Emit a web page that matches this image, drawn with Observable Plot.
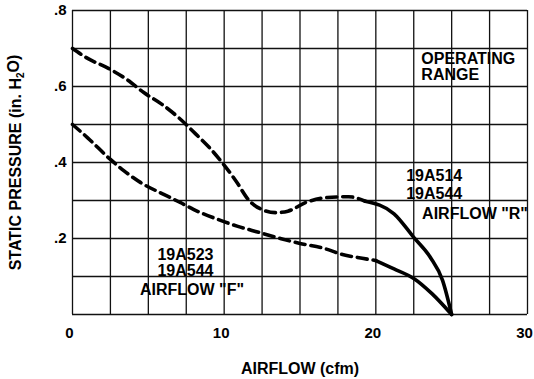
<!DOCTYPE html>
<html>
<head>
<meta charset="utf-8">
<script src="https://cdn.jsdelivr.net/npm/d3@7"></script>
<script src="https://cdn.jsdelivr.net/npm/@observablehq/plot@0.6"></script>
<style>
  html, body { margin: 0; padding: 0; background: #fff; }
</style>
</head>
<body>
<div id="chart"></div>
<script>
// ---- data ----
// 19A514 / 19A544, airflow "R" (upper curve)
const upperDashX  = [0, 1.0, 2.4, 3.6, 4.7, 5.9, 7.0, 8.1, 9.1, 9.9, 10.8, 11.6, 12.5, 13.4, 14.2, 15.4, 16.8, 18.2, 19.3];
const upperDashY  = [0.70, 0.674, 0.647, 0.618, 0.584, 0.553, 0.518, 0.476, 0.436, 0.398, 0.35, 0.302, 0.276, 0.268, 0.272, 0.295, 0.308, 0.31, 0.298];
const upperSolidX = [19.3, 21.2, 22.5, 23.6, 24.4, 25.0];
const upperSolidY = [0.298, 0.265, 0.203, 0.15, 0.09, 0.0];
// 19A523 / 19A544, airflow "F" (lower curve)
const lowerDashX  = [0, 1.0, 2.5, 3.4, 4.5, 5.8, 7.1, 8.0, 9.6, 10.9, 12.3, 13.7, 15.0, 16.5, 17.8, 19.1, 20.0];
const lowerDashY  = [0.50, 0.465, 0.408, 0.378, 0.347, 0.32, 0.295, 0.276, 0.25, 0.232, 0.216, 0.20, 0.187, 0.175, 0.158, 0.148, 0.142];
const lowerSolidX = [20.0, 21.2, 22.5, 23.7, 25.0];
const lowerSolidY = [0.142, 0.12, 0.095, 0.055, 0.0];

// grid and ticks
const xGrid = [0, 2.5, 5, 7.5, 10, 12.5, 15, 17.5, 20, 22.5, 25, 27.5, 30];
const yGrid = [0, 0.1, 0.2, 0.3, 0.4, 0.5, 0.6, 0.7, 0.8];
const xTicks = [0, 10, 20, 30];
const yTicks = [0.2, 0.4, 0.6, 0.8];
const yTickLabels = [".2", ".4", ".6", ".8"];

// annotation texts with anchor values in data units
const noteText = ["OPERATING", "RANGE", "19A514", "19A544", "AIRFLOW \"R\"", "19A523", "19A544", "AIRFLOW \"F\""];
const noteX    = [23.0, 23.0, 22.0, 22.0, 23.05, 5.6, 5.6, 4.45];
const noteY    = [0.672, 0.630, 0.366, 0.318, 0.266, 0.158, 0.116, 0.066];

const xTitle = "AIRFLOW (cfm)";
const yTitle = "STATIC PRESSURE (in. H2O)";

// ---- build tables ----
const toPts = (xs, ys) => xs.map((x, i) => ({x, y: ys[i]}));
const upperDash = toPts(upperDashX, upperDashY);
const upperSolid = toPts(upperSolidX, upperSolidY);
const lowerDash = toPts(lowerDashX, lowerDashY);
const lowerSolid = toPts(lowerSolidX, lowerSolidY);
const notes = noteText.map((t, i) => ({t, x: noteX[i], y: noteY[i]}));

const font = "'Liberation Sans', Arial, Helvetica, sans-serif";

const chart = Plot.plot({
  width: 534,
  height: 379,
  marginLeft: 72,
  marginRight: 7,
  marginTop: 10,
  marginBottom: 65,
  x: {domain: [0, 30]},
  y: {domain: [0, 0.8]},
  style: {fontFamily: font, fontWeight: "bold", fontSize: "15px", color: "#000", background: "#fff"},
  marks: [
    Plot.ruleX(xGrid, {stroke: "#111", strokeWidth: 1.3}),
    Plot.ruleY(yGrid, {stroke: "#111", strokeWidth: 1.3}),
    Plot.axisX({ticks: xTicks, tickSize: 0, tickPadding: 13, dx: -3, label: null, fontSize: 15, fontWeight: "bold"}),
    Plot.axisY({ticks: yTicks, tickSize: 0, tickPadding: 6, label: null, fontSize: 15, fontWeight: "bold",
      tickFormat: d => yTickLabels[yTicks.indexOf(d)]}),
    Plot.line(upperDash, {x: "x", y: "y", curve: "monotone-x", stroke: "#000", strokeWidth: 3.6, strokeDasharray: "10,6"}),
    Plot.line(upperSolid, {x: "x", y: "y", curve: "monotone-x", stroke: "#000", strokeWidth: 3.6}),
    Plot.line(lowerDash, {x: "x", y: "y", curve: "monotone-x", stroke: "#000", strokeWidth: 3.6, strokeDasharray: "10,6"}),
    Plot.line(lowerSolid, {x: "x", y: "y", curve: "monotone-x", stroke: "#000", strokeWidth: 3.6}),
    Plot.text(notes, {x: "x", y: "y", text: "t", textAnchor: "start", fontSize: 16, fontWeight: "bold", fill: "#000"}),
    Plot.text([xTitle], {frameAnchor: "bottom", textAnchor: "middle", lineAnchor: "middle", dy: 54, fontSize: 16, fontWeight: "bold", fill: "#000"}),
    Plot.text([yTitle], {frameAnchor: "left", textAnchor: "middle", lineAnchor: "middle", rotate: -90, dx: -57, fontSize: 16, fontWeight: "bold", fill: "#000"})
  ]
});

// subscript "2" in H2O
d3.select(chart).selectAll("text").filter(function() { return this.textContent === yTitle; }).each(function() {
  const t = d3.select(this);
  t.text("STATIC PRESSURE (in. H");
  t.append("tspan").attr("font-size", 10).attr("dy", "0.3em").text("2");
  t.append("tspan").attr("dy", "-0.3em").text("O)");
});

document.getElementById("chart").appendChild(chart);
</script>
</body>
</html>
